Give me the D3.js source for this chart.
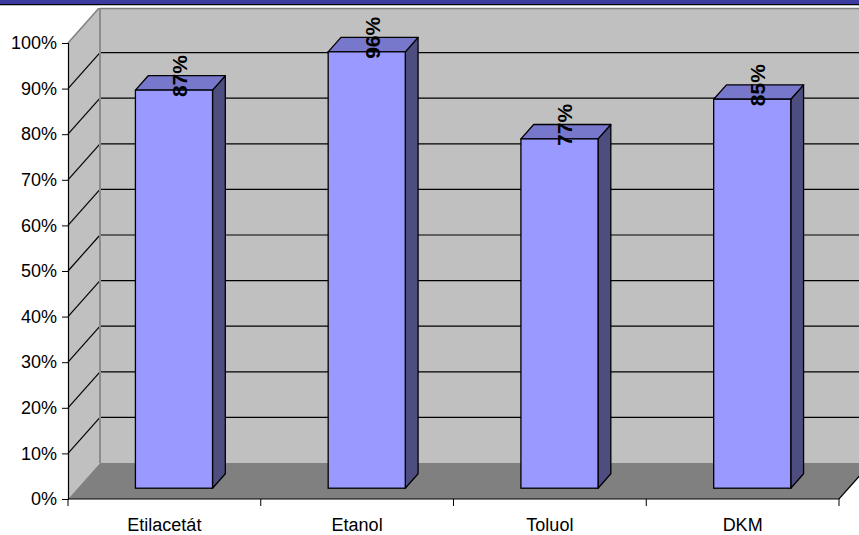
<!DOCTYPE html>
<html>
<head>
<meta charset="utf-8">
<script src="https://cdn.jsdelivr.net/npm/d3@7"></script>
<style>
  body { margin: 0; background: #fff; }
  svg { display: block; }
</style>
</head>
<body>
<div id="chart"></div>
<script>
const categories = ["Etilacetát", "Etanol", "Toluol", "DKM"];
const values = [0.873, 0.957, 0.766, 0.853];
const yTicks = [0, 0.1, 0.2, 0.3, 0.4, 0.5, 0.6, 0.7, 0.8, 0.9, 1];

const width = 859, height = 535;
const depthX = 32, depthY = -36;   // offset of the back wall
const barZ0 = 0.3, barZ1 = 0.7;    // bar depth range

const svg = d3.select("#chart").append("svg")
  .attr("width", width)
  .attr("height", height)
  .style("font-family", "Arial, 'Liberation Sans', sans-serif");

const x = d3.scaleBand(categories, [68, 839])
  .paddingInner(0.6)
  .paddingOuter(0.3);

const y = d3.scaleLinear([0, 1], [499, 43]);
const fmt = d3.format(".0%");

const left = 68, right = 839;
const floorY = y(0);

// Back wall
svg.append("rect")
  .attr("x", left + depthX)
  .attr("y", y(1) + depthY)
  .attr("width", right - left)
  .attr("height", y(0) - y(1))
  .attr("fill", "#c0c0c0");

// Side wall
svg.append("path")
  .attr("d", `M${left},${y(1)}L${left + depthX},${y(1) + depthY}L${left + depthX},${floorY + depthY}L${left},${floorY}Z`)
  .attr("fill", "#c0c0c0");

// Gridlines: back wall and side wall
yTicks.slice(1, -1).forEach(t => {
  svg.append("line")
    .attr("x1", left + depthX).attr("x2", right + depthX)
    .attr("y1", y(t) + depthY).attr("y2", y(t) + depthY)
    .attr("stroke", "#000").attr("stroke-width", 1.2);
  svg.append("line")
    .attr("x1", left).attr("x2", left + depthX)
    .attr("y1", y(t)).attr("y2", y(t) + depthY)
    .attr("stroke", "#000").attr("stroke-width", 1.2);
});

// top edge of side wall
svg.append("line")
  .attr("x1", left).attr("x2", left + depthX)
  .attr("y1", y(1)).attr("y2", y(1) + depthY)
  .attr("stroke", "#808080").attr("stroke-width", 1.5);

// back wall left edge
svg.append("line")
  .attr("x1", left + depthX).attr("x2", left + depthX)
  .attr("y1", y(1) + depthY).attr("y2", floorY + depthY)
  .attr("stroke", "#8c8c8c").attr("stroke-width", 2);

// Floor
svg.append("path")
  .attr("d", `M${left},${floorY}L${right},${floorY}L${right + depthX},${floorY + depthY}L${left + depthX},${floorY + depthY}Z`)
  .attr("fill", "#808080");
svg.append("path")
  .attr("d", `M${left},${floorY}L${right},${floorY}L${right + depthX},${floorY + depthY}`)
  .attr("fill", "none")
  .attr("stroke", "#000").attr("stroke-width", 1.2);

// Bars
const bars = svg.append("g")
  .selectAll("g")
  .data(categories.map((c, i) => ({ c, v: values[i] })))
  .join("g");

const fx = d => x(d.c) + barZ0 * depthX;
const fy = v => y(v) + barZ0 * depthY;
const bdx = (barZ1 - barZ0) * depthX, bdy = (barZ1 - barZ0) * depthY;
const bw = x.bandwidth();

// side face
bars.append("path")
  .attr("d", d => {
    const x1 = fx(d) + bw;
    return `M${x1},${fy(0)}L${x1},${fy(d.v)}L${x1 + bdx},${fy(d.v) + bdy}L${x1 + bdx},${fy(0) + bdy}Z`;
  })
  .attr("fill", "#4d4d80")
  .attr("stroke", "#000").attr("stroke-width", 1.3).attr("stroke-linejoin", "round");

// top face
bars.append("path")
  .attr("d", d => {
    const x0 = fx(d), yt = fy(d.v);
    return `M${x0},${yt}L${x0 + bw},${yt}L${x0 + bw + bdx},${yt + bdy}L${x0 + bdx},${yt + bdy}Z`;
  })
  .attr("fill", "#7777cc")
  .attr("stroke", "#000").attr("stroke-width", 1.3).attr("stroke-linejoin", "round");

// front face
bars.append("rect")
  .attr("x", d => fx(d))
  .attr("y", d => fy(d.v))
  .attr("width", bw)
  .attr("height", d => fy(0) - fy(d.v))
  .attr("fill", "#9999ff")
  .attr("stroke", "#000").attr("stroke-width", 1.3);

// Value labels
bars.append("text")
  .attr("transform", d => `translate(${fx(d) + bw / 2 + 5.5},${fy(d.v) + 7}) rotate(-90)`)
  .attr("dominant-baseline", "central")
  .attr("font-size", "21px")
  .attr("font-weight", "bold")
  .attr("fill", "#000")
  .text(d => fmt(d.v));

// Y axis
const yAxis = svg.append("g")
  .attr("transform", `translate(${left},0)`)
  .call(d3.axisLeft(y).tickValues(yTicks).tickFormat(fmt).tickSize(6).tickPadding(5));
yAxis.select(".domain").attr("stroke", "#000").attr("stroke-width", 1.2);
yAxis.selectAll(".tick line").attr("stroke", "#000");
yAxis.selectAll("text")
  .attr("font-size", "18px")
  .attr("font-family", "Arial, 'Liberation Sans', sans-serif")
  .attr("fill", "#000");

// X axis ticks at category boundaries
const bounds = d3.range(categories.length + 1).map(i => left + i * x.step());
svg.append("g")
  .selectAll("line")
  .data(bounds)
  .join("line")
    .attr("x1", d => d).attr("x2", d => d)
    .attr("y1", floorY).attr("y2", floorY + 7)
    .attr("stroke", "#000");

svg.append("g")
  .selectAll("text")
  .data(categories)
  .join("text")
    .attr("x", d => x(d) + bw / 2)
    .attr("y", 531)
    .attr("text-anchor", "middle")
    .attr("font-size", "18px")
    .attr("fill", "#000")
    .text(d => d);

// Top border band
svg.append("rect").attr("x", 0).attr("y", 0).attr("width", width).attr("height", 4).attr("fill", "#3c3ca0");
svg.append("rect").attr("x", 0).attr("y", 4).attr("width", width).attr("height", 1.5).attr("fill", "#000");
svg.append("rect").attr("x", 0).attr("y", 5.5).attr("width", width).attr("height", 2.5).attr("fill", "#fff");
svg.append("line")
  .attr("x1", left + depthX).attr("x2", width)
  .attr("y1", 8.5).attr("y2", 8.5)
  .attr("stroke", "#808080").attr("stroke-width", 1.5);
</script>
</body>
</html>
